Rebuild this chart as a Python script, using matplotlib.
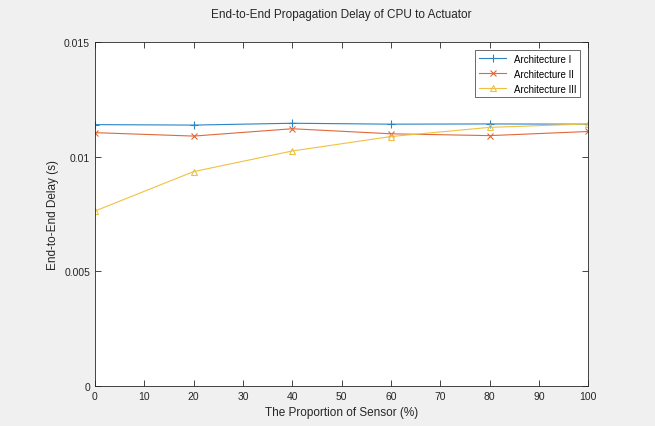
import matplotlib
matplotlib.use("Agg")
import matplotlib.pyplot as plt

# data
proportion = [0, 20, 40, 60, 80, 100]
arch1 = [0.01140, 0.01138, 0.01146, 0.01142, 0.01143, 0.01142]
arch2 = [0.01105, 0.01090, 0.01122, 0.01100, 0.01092, 0.01110]
arch3 = [0.00763, 0.00935, 0.01025, 0.01088, 0.01128, 0.01143]

labels = ["Architecture I", "Architecture II", "Architecture III"]
colors = ["#2a85c6", "#e0693a", "#f0c040"]

plt.rcParams["font.family"] = ["Liberation Sans", "DejaVu Sans"]

fig = plt.figure(figsize=(6.55, 4.27), dpi=100, facecolor="#f0f0f0")
ax = fig.add_axes([0.145, 0.094, 0.753, 0.805])

ax.plot(proportion, arch1, color=colors[0], marker="+", markersize=6, mew=0.8, lw=0.8, label=labels[0])
ax.plot(proportion, arch2, color=colors[1], marker="x", markersize=4, mew=0.8, lw=0.8, label=labels[1])
ax.plot(proportion, arch3, color=colors[2], marker="^", markersize=5, mew=0.8, mfc="none", lw=0.8, label=labels[2])

ax.set_xlim(0, 100)
ax.set_ylim(0, 0.015)
ax.set_xticks(range(0, 101, 10))
ax.set_yticks([0, 0.005, 0.01, 0.015])
ax.set_yticklabels(["0", "0.005", "0.01", "0.015"])
ax.tick_params(direction="in", top=True, right=True, labelsize=7.5, colors="#262626", length=4, width=0.6)
for s in ax.spines.values():
    s.set_color("#262626")
    s.set_linewidth(0.6)

ax.set_title("End-to-End Propagation Delay of CPU to Actuator", fontsize=8.5, color="#262626", pad=18)
ax.set_xlabel("The Proportion of Sensor (%)", fontsize=8.5, color="#262626")
ax.set_ylabel("End-to-End Delay (s)", fontsize=8.5, color="#262626")

leg = ax.legend(loc="upper right", fontsize=7, frameon=True, fancybox=False,
                edgecolor="#262626", borderaxespad=0.8, handlelength=2.8)
leg.get_frame().set_linewidth(0.6)

fig.savefig("out.png", dpi=100, facecolor=fig.get_facecolor())
